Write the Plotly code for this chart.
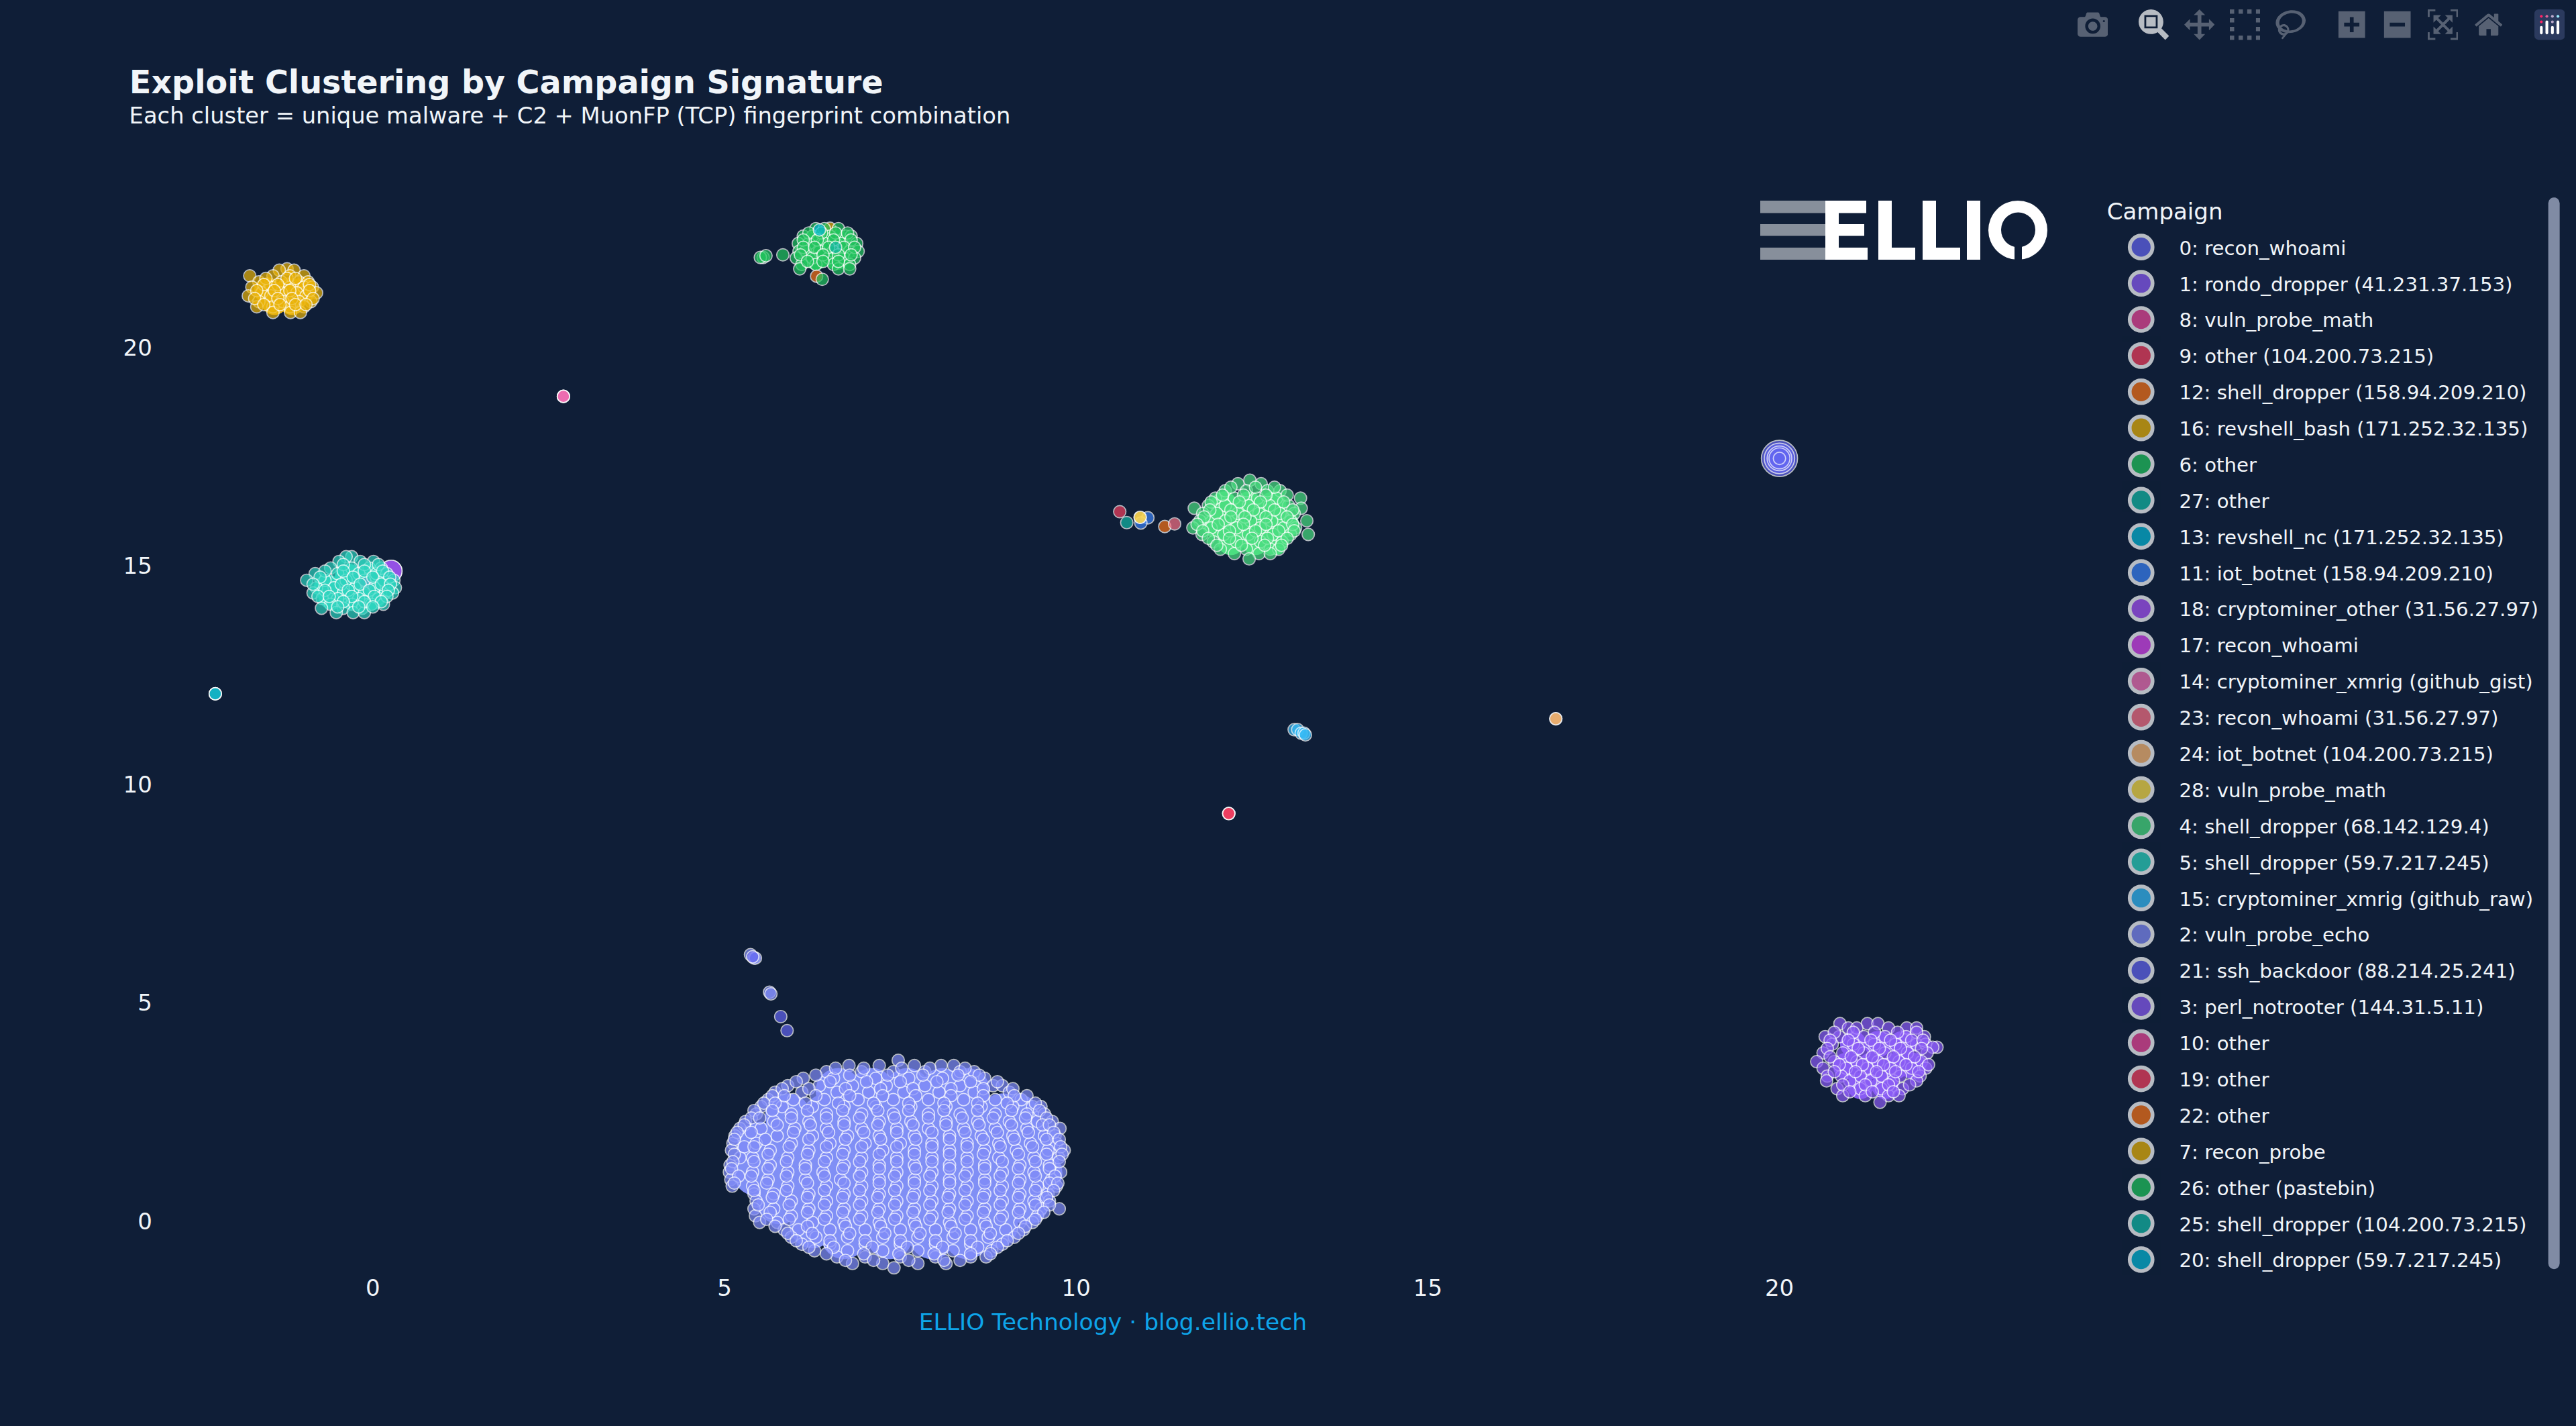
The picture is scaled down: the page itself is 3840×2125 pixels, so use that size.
import plotly.graph_objects as go

BG = "#0f1e37"
SCALE = 3840 / 1354

TITLE = "Exploit Clustering by Campaign Signature"
SUBTITLE = "Each cluster = unique malware + C2 + MuonFP (TCP) fingerprint combination"
FOOTER = "ELLIO Technology · blog.ellio.tech"
TICKS = [0, 5, 10, 15, 20]

NAMES = {
    0: "recon_whoami", 1: "rondo_dropper (41.231.37.153)", 8: "vuln_probe_math",
    9: "other (104.200.73.215)", 12: "shell_dropper (158.94.209.210)",
    16: "revshell_bash (171.252.32.135)", 6: "other", 27: "other",
    13: "revshell_nc (171.252.32.135)", 11: "iot_botnet (158.94.209.210)",
    18: "cryptominer_other (31.56.27.97)", 17: "recon_whoami",
    14: "cryptominer_xmrig (github_gist)", 23: "recon_whoami (31.56.27.97)",
    24: "iot_botnet (104.200.73.215)", 28: "vuln_probe_math",
    4: "shell_dropper (68.142.129.4)", 5: "shell_dropper (59.7.217.245)",
    15: "cryptominer_xmrig (github_raw)", 2: "vuln_probe_echo",
    21: "ssh_backdoor (88.214.25.241)", 3: "perl_notrooter (144.31.5.11)",
    10: "other", 19: "other", 22: "other", 7: "recon_probe",
    26: "other (pastebin)", 25: "shell_dropper (104.200.73.215)",
    20: "shell_dropper (59.7.217.245)",
}
COLORS = {
    0: "#6366f1", 1: "#8b5cf6", 8: "#ec4899", 9: "#f43f5e", 12: "#f97316", 16: "#eab308",
    6: "#22c55e", 27: "#14b8a6", 13: "#06b6d4", 11: "#3b82f6", 18: "#a855f7", 17: "#d946ef",
    14: "#f472b6", 23: "#fb7185", 24: "#fdba74", 28: "#fde047", 4: "#4ade80", 5: "#2dd4bf",
    15: "#38bdf8", 2: "#818cf8", 21: "#6366f1", 3: "#8b5cf6", 10: "#ec4899", 19: "#f43f5e",
    22: "#f97316", 7: "#eab308", 26: "#22c55e", 25: "#14b8a6", 20: "#06b6d4",
}

# Each entry: (y, [x, x, ...])
ROWS_2 = [
    (3.68, [7.47]),
    (3.56, [6.77, 7.2, 7.7, 8.08, 8.26]),
    (3.42, [6.45, 6.95, 7.4, 7.85, 8.35, 8.55]),
    (3.27, [6.12, 6.55, 7.15, 7.62, 8.1, 8.7]),
    (3.1, [5.9, 6.35, 6.82, 7.3, 7.85, 8.35, 8.82, 8.95]),
    (2.95, [5.72, 6.1, 6.6, 7.05, 7.55, 8.05, 8.55, 9.05]),
    (2.78, [5.62, 5.98, 6.42, 6.9, 7.4, 7.9, 8.4, 8.85, 9.22]),
    (2.62, [5.52, 5.82, 6.25, 6.7, 7.15, 7.65, 8.15, 8.65, 9.1, 9.38, 9.5]),
    (2.45, [5.45, 5.95, 6.45, 6.95, 7.4, 7.9, 8.35, 8.85, 9.3, 9.55]),
    (2.28, [5.3, 5.7, 6.2, 6.7, 7.2, 7.65, 8.15, 8.6, 9.05, 9.45, 9.66]),
    (2.12, [5.22, 5.52, 6.0, 6.45, 6.95, 7.45, 7.9, 8.4, 8.85, 9.3, 9.77]),
    (1.95, [5.15, 5.75, 6.25, 6.75, 7.2, 7.7, 8.2, 8.65, 9.1, 9.55, 9.7]),
    (1.78, [5.12, 5.45, 5.95, 6.5, 7.0, 7.5, 7.95, 8.45, 8.9, 9.35, 9.72]),
    (1.62, [5.1, 5.65, 6.2, 6.7, 7.25, 7.7, 8.2, 8.7, 9.15, 9.6, 9.83]),
    (1.45, [5.22, 5.4, 5.9, 6.45, 6.95, 7.45, 7.95, 8.45, 8.9, 9.4, 9.75]),
    (1.28, [5.08, 5.65, 6.15, 6.7, 7.2, 7.7, 8.2, 8.7, 9.2, 9.62]),
    (1.12, [5.07, 5.4, 5.9, 6.4, 6.95, 7.45, 7.95, 8.45, 8.95, 9.4, 9.78]),
    (0.95, [5.09, 5.62, 6.15, 6.65, 7.2, 7.7, 8.2, 8.7, 9.2, 9.65]),
    (0.8, [5.11, 5.4, 5.9, 6.45, 6.95, 7.45, 7.95, 8.45, 8.95, 9.45, 9.72]),
    (0.62, [5.42, 5.7, 6.2, 6.7, 7.2, 7.7, 8.2, 8.7, 9.2, 9.6]),
    (0.46, [5.45, 5.95, 6.45, 6.95, 7.45, 7.95, 8.45, 8.95, 9.4, 9.62]),
    (0.28, [5.42, 5.7, 6.2, 6.7, 7.2, 7.7, 8.2, 8.7, 9.2, 9.5, 9.76]),
    (0.12, [5.44, 5.95, 6.45, 6.95, 7.45, 7.95, 8.45, 8.95, 9.45]),
    (-0.03, [5.5, 5.75, 6.25, 6.7, 7.2, 7.7, 8.2, 8.7, 9.2, 9.38]),
    (-0.2, [5.85, 6.05, 6.5, 7.0, 7.5, 8.0, 8.5, 9.0, 9.25]),
    (-0.37, [5.95, 6.3, 6.75, 7.25, 7.75, 8.25, 8.75, 9.12]),
    (-0.53, [6.1, 6.5, 7.0, 7.5, 8.0, 8.5, 8.95]),
    (-0.68, [6.28, 6.75, 7.25, 7.75, 8.25, 8.8]),
    (-0.82, [6.6, 7.0, 7.5, 8.0, 8.5, 8.72]),
    (-0.97, [6.82, 7.25, 7.75, 8.15]),
    (-1.07, [7.41]),
    (6.1, [5.37]), (6.02, [5.42, 5.44]), (5.24, [5.64]), (5.2, [5.66]),
    # second layer
    (3.5, [6.58, 6.98, 7.52, 7.92, 8.42]),
    (3.34, [6.3, 6.78, 7.32, 7.82, 8.32, 8.62]),
    (3.19, [6.02, 6.5, 7.02, 7.5, 8.02, 8.5, 8.88]),
    (3.03, [5.82, 6.2, 6.72, 7.22, 7.68, 8.22, 8.68, 9.1]),
    (2.87, [5.68, 5.85, 6.3, 6.78, 7.25, 7.72, 8.22, 8.68, 9.12, 9.3]),
    (2.7, [5.56, 5.72, 6.15, 6.62, 7.12, 7.62, 8.12, 8.6, 9.02, 9.42]),
    (2.53, [5.42, 5.68, 6.18, 6.68, 7.18, 7.62, 8.12, 8.6, 9.08, 9.48]),
    (2.36, [5.38, 5.5, 5.95, 6.45, 6.92, 7.42, 7.9, 8.38, 8.82, 9.28, 9.58]),
    (2.2, [5.28, 5.75, 6.22, 6.7, 7.18, 7.68, 8.15, 8.62, 9.08, 9.52, 9.62]),
    (2.03, [5.18, 5.38, 5.98, 6.48, 6.98, 7.45, 7.95, 8.42, 8.88, 9.32, 9.68]),
    (1.87, [5.14, 5.58, 6.2, 6.72, 7.22, 7.72, 8.2, 8.68, 9.12, 9.58, 9.76]),
    (1.7, [5.28, 5.42, 5.92, 6.45, 6.95, 7.45, 7.95, 8.45, 8.92, 9.38, 9.78]),
    (1.53, [5.14, 5.62, 6.18, 6.68, 7.2, 7.7, 8.2, 8.68, 9.18, 9.58, 9.8]),
    (1.36, [5.12, 5.42, 5.88, 6.42, 6.92, 7.45, 7.95, 8.45, 8.95, 9.42, 9.76]),
    (1.2, [5.1, 5.62, 6.15, 6.68, 7.2, 7.72, 8.2, 8.7, 9.18, 9.62]),
    (1.03, [5.2, 5.38, 5.88, 6.42, 6.92, 7.42, 7.92, 8.42, 8.92, 9.42, 9.7]),
    (0.87, [5.14, 5.6, 6.18, 6.7, 7.2, 7.7, 8.2, 8.7, 9.18, 9.62, 9.74]),
    (0.7, [5.42, 5.88, 6.42, 6.92, 7.42, 7.92, 8.42, 8.92, 9.42, 9.68]),
    (0.54, [5.68, 6.18, 6.68, 7.18, 7.68, 8.18, 8.68, 9.18, 9.58]),
    (0.37, [5.48, 5.92, 6.42, 6.92, 7.42, 7.92, 8.42, 8.92, 9.42, 9.62]),
    (0.2, [5.65, 6.18, 6.68, 7.18, 7.68, 8.18, 8.68, 9.18, 9.54]),
    (0.04, [5.6, 5.92, 6.42, 6.92, 7.42, 7.92, 8.42, 8.92, 9.42]),
    (-0.12, [5.72, 6.18, 6.72, 7.22, 7.72, 8.22, 8.72, 9.28]),
    (-0.28, [5.9, 6.25, 6.78, 7.28, 7.78, 8.28, 8.78, 9.18]),
    (-0.45, [6.02, 6.5, 7.0, 7.5, 8.0, 8.5, 9.02]),
    (-0.6, [6.2, 6.55, 7.1, 7.6, 8.1, 8.6, 8.88]),
    (-0.75, [6.45, 6.98, 7.48, 7.98, 8.5, 8.78]),
    (-0.9, [6.72, 7.12, 7.62, 8.12, 8.35]),
]
ROWS_4 = [
    (16.96, [12.47]), (16.88, [12.3, 12.63]), (16.72, [12.12, 12.42, 12.72, 12.9]),
    (16.55, [11.98, 12.25, 12.58, 12.85, 13.19]), (16.38, [11.88, 12.12, 12.45, 12.75, 13.02]),
    (16.32, [11.68, 13.2]), (16.2, [11.8, 12.0, 12.3, 12.6, 12.9, 13.1]),
    (16.03, [11.76, 12.12, 12.48, 12.78, 13.05, 13.28]),
    (15.87, [11.66, 11.92, 12.28, 12.62, 12.95, 13.12]),
    (15.72, [11.79, 12.1, 12.45, 12.8, 13.05, 13.3]), (15.55, [11.95, 12.28, 12.62, 12.93]),
    (15.38, [12.05, 12.42, 12.76, 12.88]), (15.28, [12.25, 12.6, 12.76]), (15.16, [12.46]),
    (16.8, [12.2, 12.55, 12.82]), (16.62, [12.08, 12.38, 12.7, 13.0]), (16.46, [11.92, 12.32, 12.62, 12.95]),
    (16.28, [11.9, 12.2, 12.52, 12.82, 13.08]), (16.12, [11.82, 12.2, 12.4, 12.7, 13.0]),
    (15.95, [11.72, 12.02, 12.38, 12.7, 13.08]), (15.8, [11.8, 12.18, 12.55, 12.88, 13.1]),
    (15.63, [11.88, 12.18, 12.5, 12.72, 13.0]), (15.47, [12.0, 12.35, 12.68, 12.92]),
]
ROWS_16 = [
    (21.8, [-1.22]), (21.77, [-1.33, -1.12]), (21.64, [-1.75, -1.42, -1.18, -0.98]),
    (21.5, [-1.62, -1.3, -1.05, -0.92]), (21.38, [-1.72, -1.45, -1.18, -0.98, -0.86]),
    (21.25, [-1.58, -1.3, -1.08, -0.8]), (21.18, [-1.77, -1.45, -0.95]),
    (21.05, [-1.62, -1.28, -1.05, -0.88]), (20.93, [-1.65, -1.42, -1.18, -0.98]),
    (20.8, [-1.42, -1.17, -1.03]), (22.73, [6.5]),
    (21.58, [-1.52, -1.22, -1.1]), (21.44, [-1.55, -1.35, -0.9]), (21.3, [-1.65, -1.4, -1.18, -0.9]),
    (21.12, [-1.68, -1.35, -1.15, -0.85]), (20.98, [-1.55, -1.32, -1.1, -0.95]),
]
ROWS_5 = [
    (15.21, [-0.3, -0.38]), (15.1, [-0.48, -0.18, 0.01]), (14.95, [-0.6, -0.3, -0.05, 0.12]),
    (14.82, [-0.82, -0.5, -0.2, 0.05, 0.2]), (14.67, [-0.94, -0.68, -0.38, -0.12, 0.15, 0.3]),
    (14.5, [-0.8, -0.55, -0.25, 0.02, 0.32]), (14.38, [-0.85, -0.42, -0.12, 0.18, 0.28]),
    (14.25, [-0.72, -0.5, -0.2, 0.08]), (14.12, [-0.6, -0.3, -0.02, 0.15]),
    (14.03, [-0.73, -0.42, -0.15]), (13.93, [-0.52, -0.28, -0.12]),
    (15.03, [-0.42, -0.12, 0.08]), (14.88, [-0.68, -0.42, -0.12, 0.14]),
    (14.74, [-0.75, -0.28, 0.0, 0.24]), (14.58, [-0.85, -0.45, -0.18, 0.12, 0.25]),
    (14.44, [-0.68, -0.35, -0.05, 0.22]), (14.3, [-0.78, -0.62, -0.3, 0.02, 0.2]),
    (14.18, [-0.42, -0.12, 0.12]), (14.06, [-0.5, -0.2, 0.0]),
]
ROWS_3 = [
    (4.52, [20.86, 21.25, 21.4]), (4.42, [20.98, 21.1, 21.55, 21.81, 21.95]),
    (4.22, [20.65, 20.85, 21.2, 21.5, 21.8, 22.06]), (4.05, [20.75, 21.05, 21.35, 21.65, 21.95, 22.08]),
    (3.98, [22.24, 22.18]), (3.85, [20.62, 20.9, 21.2, 21.5, 21.82, 22.1]),
    (3.65, [20.53, 20.78, 21.1, 21.4, 21.7, 22.02]), (3.5, [20.62, 20.95, 21.25, 21.58, 21.88, 22.08]),
    (3.32, [20.68, 20.88, 21.15, 21.45, 21.72, 22.0]), (3.21, [20.67, 21.0, 21.3, 21.62, 21.95]),
    (3.03, [20.82, 21.15, 21.45, 21.75]), (2.87, [20.9, 21.22, 21.55, 21.7]), (2.72, [21.43]),
    (4.32, [20.78, 21.05, 21.35, 21.68, 21.95]), (4.14, [20.72, 20.98, 21.3, 21.58, 21.88, 22.04]),
    (3.95, [20.68, 21.12, 21.42, 21.72, 22.02]), (3.76, [20.72, 21.02, 21.32, 21.62, 21.92]),
    (3.58, [20.85, 21.18, 21.48, 21.8, 22.12]), (3.42, [20.78, 21.08, 21.38, 21.65, 21.98]),
    (3.12, [20.9, 21.22, 21.55, 21.85]), (2.96, [21.0, 21.32, 21.62]),
]
ROWS_6 = [
    (22.72, [6.3, 6.42, 6.62]), (22.55, [6.12, 6.25, 6.5, 6.72, 6.8]),
    (22.38, [6.05, 6.2, 6.42, 6.65, 6.88]), (22.2, [6.06, 6.15, 6.35, 6.55, 6.78, 6.9]),
    (22.05, [6.02, 6.25, 6.48, 6.7, 6.85]), (21.9, [6.1, 6.3, 6.55, 6.78]),
    (21.8, [6.07, 6.62, 6.78]), (22.06, [5.55, 5.51]), (22.1, [5.59]), (22.12, [5.83]),
    (22.62, [6.2, 6.38, 6.58, 6.75]), (22.46, [6.12, 6.32, 6.55, 6.8]), (22.29, [6.12, 6.28, 6.48, 6.7, 6.85]),
    (22.12, [6.08, 6.4, 6.62, 6.8]), (21.97, [6.18, 6.4, 6.62]),
]
ROWS_21 = [(4.68, [5.8]), (4.36, [5.89]), (6.05, [5.4])]
ROWS_SMALL = {
    0: [(17.46, [20.0, 20.0, 20.0, 20.0, 20.0])],
    1: [(14.88, [0.26])], 8: [(18.88, [2.71])], 9: [(16.24, [10.62])],
    12: [(15.9, [11.26])], 27: [(22.29, [6.58])], 13: [(22.69, [6.35])],
    11: [(16.1, [11.02]), (15.98, [10.92])], 18: [(14.88, [0.26])], 17: [(14.6, [-0.1])],
    14: [(18.88, [2.71, 2.71])], 23: [(15.96, [11.4])], 24: [(16.11, [10.91]), (11.5, [16.82, 16.82])],
    28: [(16.11, [10.91])], 15: [(11.25, [13.1, 13.15]), (11.17, [13.2, 13.24]), (11.13, [13.26])],
    10: [(9.33, [12.17])], 19: [(9.33, [12.17, 12.17])], 22: [(21.63, [6.31])],
    7: [(12.07, [-2.24])], 26: [(21.56, [6.39])], 25: [(15.99, [10.72])], 20: [(12.07, [-2.24, -2.24])],
}
SIZES_SMALL = {0: [19, 16, 13, 11, 6.5], 1: [11.5], 18: [11.5]}
MARKER_SIZE = 6.5

# Underlay tone that fills the densest interiors of the big clusters.
FILL_SERIES = {
    2: ("#808ff5", 24, [
        (2.98, [6.62, 7.1, 7.6, 8.1, 8.45]), (2.4, [5.9, 6.45, 6.95, 7.45, 7.95, 8.45, 8.95, 9.15]),
        (1.75, [5.5, 6.05, 6.6, 7.1, 7.6, 8.1, 8.6, 9.1, 9.42]),
        (1.1, [5.45, 6.0, 6.5, 7.0, 7.5, 8.0, 8.5, 9.0, 9.48]),
        (0.45, [5.78, 6.3, 6.8, 7.3, 7.8, 8.3, 8.8, 9.3]),
        (-0.1, [6.25, 6.8, 7.3, 7.8, 8.3, 8.85]), (-0.35, [6.7, 7.35, 7.95, 8.45]),
    ]),
    4: ("#50de82", 14, [(16.4, [12.1, 12.45, 12.8]), (15.95, [11.98, 12.33, 12.68, 12.98]),
                        (15.55, [12.2, 12.55, 12.82])]),
    16: ("#ecb819", 14, [(21.3, [-1.5, -1.2, -1.0]), (21.05, [-1.4, -1.15])]),
    5: ("#32d4be", 14, [(14.75, [-0.35, -0.05]), (14.5, [-0.65, 0.12]),
                        (14.3, [-0.3, 0.0, -0.58])]),
    3: ("#855cf0", 14, [(4.05, [21.05, 21.4, 21.75]), (3.55, [20.95, 21.3, 21.65, 21.9]),
                        (3.1, [21.15, 21.5])]),
    6: ("#28c35f", 14, [(22.4, [6.3, 6.6]), (22.08, [6.3, 6.6])]),
}
ROWS = {2: ROWS_2, 4: ROWS_4, 16: ROWS_16, 5: ROWS_5, 3: ROWS_3, 6: ROWS_6, 21: ROWS_21, **ROWS_SMALL}

# Logo pieces, in reference pixels: (x0, y0, x1, y1)
LOGO_BARS = [(2624, 299, 2721, 317.5), (2624, 334, 2721, 351.5), (2624, 369, 2721, 387)]
LOGO_WHITE = [(2721, 299, 2741, 387), (2741, 299, 2782, 317.5), (2741, 334, 2779, 351.5),
              (2741, 369, 2784, 387), (2800, 299, 2820, 387), (2820, 369, 2855, 387),
              (2866, 299, 2886, 387), (2886, 369, 2922, 387), (2932, 299, 2952, 387)]
LOGO_RING = (2964, 299, 3052, 387)
LOGO_HOLE = (2983, 316.5, 3034, 368.5)
LOGO_GAP = (3003, 365, 3014, 388)

ML, MR, MT, MB = 81, 266, 102, 82
WIDTH, HEIGHT = 1354, 750
XRANGE = [-3.11, 24.13]
YRANGE = [-1.15, 23.51]


def flat(rows):
    xs, ys = [], []
    for y, row in rows:
        for x in row:
            xs.append(x)
            ys.append(y)
    return xs, ys


def paper(box, kind, fill, opacity=1):
    pw, ph = WIDTH - ML - MR, HEIGHT - MT - MB
    x0, y0, x1, y1 = box
    return dict(type=kind, xref="paper", yref="paper", layer="above",
                x0=(x0 / SCALE - ML) / pw, x1=(x1 / SCALE - ML) / pw,
                y0=1 - (y0 / SCALE - MT) / ph, y1=1 - (y1 / SCALE - MT) / ph,
                fillcolor=fill, opacity=opacity, line=dict(width=0))


fig = go.Figure()
for k, (color, size, rows) in FILL_SERIES.items():
    xs, ys = flat(rows)
    fig.add_trace(go.Scatter(x=xs, y=ys, mode="markers", showlegend=False, hoverinfo="skip", cliponaxis=False,
                             marker=dict(color=color, size=size, opacity=1, line=dict(width=0))))

for k, name in NAMES.items():
    xs, ys = flat(ROWS[k])
    fig.add_trace(go.Scatter(
        x=xs, y=ys, mode="markers", name=f"{k}: {name}", cliponaxis=False,
        marker=dict(color=COLORS[k], size=SIZES_SMALL.get(k, MARKER_SIZE), opacity=0.7,
                    line=dict(color="white", width=0.6)),
    ))

shapes = [paper(b, "rect", "white", 0.5) for b in LOGO_BARS]
shapes += [paper(b, "rect", "white") for b in LOGO_WHITE]
shapes += [paper(LOGO_RING, "circle", "white"), paper(LOGO_HOLE, "circle", BG), paper(LOGO_GAP, "rect", BG)]

fig.update_layout(
    width=WIDTH, height=HEIGHT, autosize=False,
    paper_bgcolor=BG, plot_bgcolor=BG,
    font=dict(family="DejaVu Sans", color="#f1f5f9", size=12),
    margin=dict(l=ML, r=MR, t=MT, b=MB),
    title=dict(text=f"<b>{TITLE}</b>", x=68 / WIDTH, xanchor="left", y=1 - 43 / HEIGHT, yanchor="middle",
               font=dict(size=16.8, color="#f1f5f9")),
    xaxis=dict(range=XRANGE, tickvals=TICKS, showgrid=False, zeroline=False, showline=False,
               tickfont=dict(size=12, color="#f1f5f9")),
    yaxis=dict(range=YRANGE, tickvals=TICKS, showgrid=False, zeroline=False, showline=False,
               tickfont=dict(size=12, color="#f1f5f9")),
    legend=dict(title=dict(text="Campaign", font=dict(size=12)), font=dict(size=10.3), x=1.0173, xanchor="left",
                y=1.004, yanchor="top", itemsizing="constant", bgcolor="rgba(0,0,0,0)", maxheight=570),
    annotations=[
        dict(text=FOOTER, xref="paper", yref="paper", x=0.5, y=-0.048, xanchor="center", yanchor="middle",
             showarrow=False, font=dict(size=12.2, color="#0ea5e9")),
        dict(text=SUBTITLE, xref="paper", yref="paper", x=(68 - ML) / (WIDTH - ML - MR),
             y=1 + (MT - 61) / (HEIGHT - MT - MB), xanchor="left", yanchor="middle", xshift=-2,
             showarrow=False, font=dict(size=11.9, color="#f1f5f9")),
    ],
    shapes=shapes,
)

script = (
    f"document.documentElement.style.cssText='background:{BG};overflow:hidden';"
    f"document.body.style.cssText='margin:0;background:{BG};overflow:hidden;zoom:{SCALE}';"
    "var r=document.querySelector('.plotlyjsicon rect');if(r){r.style.fill='#2b3a5e';}"
)
fig.write_html("out.html", config={"displayModeBar": True}, post_script=script)
